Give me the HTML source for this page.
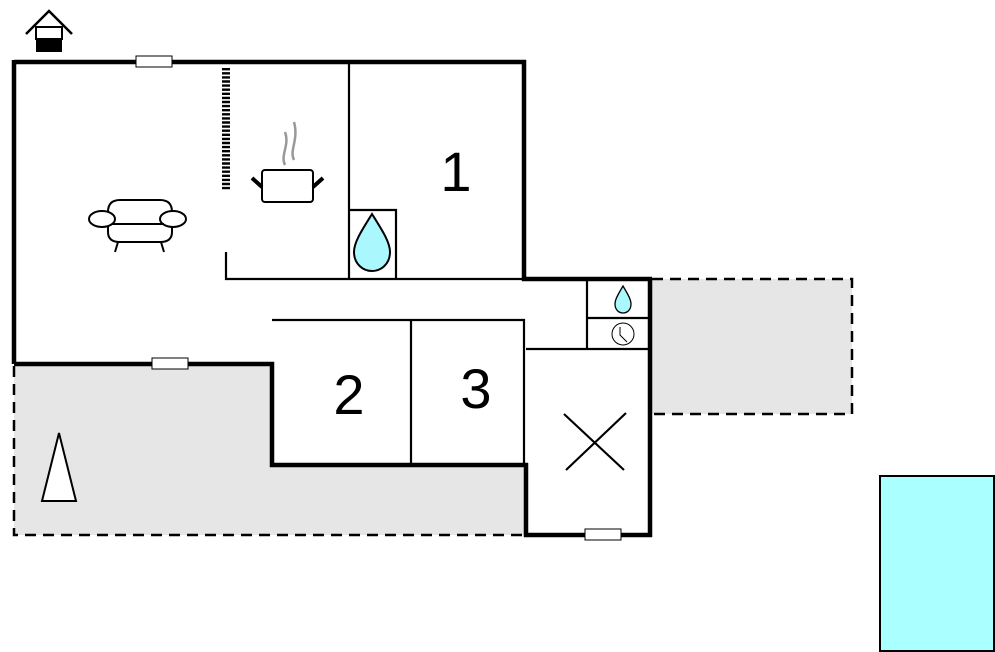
<!DOCTYPE html>
<html><head><meta charset="utf-8"><style>body{margin:0;background:#fff}svg{display:block}</style></head><body>
<svg width="995" height="652" viewBox="0 0 995 652" xmlns="http://www.w3.org/2000/svg" font-family="Liberation Sans, sans-serif">
<rect x="14" y="364" width="512" height="171" fill="#e6e6e6"/>
<rect x="650" y="279" width="202" height="135" fill="#e6e6e6"/>
<rect x="272" y="320" width="254" height="145" fill="#fff"/>
<g stroke="#000" stroke-width="2.5" stroke-dasharray="11,7" fill="none">
<path d="M14 366 V535 H524"/>
<path d="M652 279 H852 V414 H652"/>
</g>
<g stroke="#000" stroke-width="2.2" fill="none">
<path d="M349 62 V279"/>
<path d="M226 252 V279 H524"/>
<path d="M349 210 H396 V279"/>
<path d="M272 320 H524 V465"/>
<path d="M411 320 V465"/>
<path d="M526 349 H650"/>
<path d="M587 279 V349"/>
<path d="M587 318 H650"/>
<path d="M564 414 L624 470 M626 413 L566 470"/>
</g>
<g stroke="#000" stroke-width="4.5" fill="none" stroke-linejoin="miter">
<path d="M14 62 H526 M524 60 V279 H652 M650 279 V537 M652 535 H524 M526 537 V463 M528 465 H272 V364 H14 M14 364 V60"/>
</g>
<g fill="#fff" stroke="#000" stroke-width="1">
<rect x="136" y="56" width="36" height="11"/>
<rect x="152" y="358" width="36" height="11"/>
<rect x="585" y="529" width="36" height="11"/>
</g>
<line x1="226" y1="68" x2="226" y2="191" stroke="#000" stroke-width="8" stroke-dasharray="2.4,1.7"/>
<path d="M26 34 L49 11 L72 34" stroke="#000" stroke-width="2.5" fill="none"/>
<rect x="36" y="27" width="26" height="12" fill="#fff" stroke="#000" stroke-width="2"/>
<rect x="36" y="39" width="26" height="13" fill="#000"/>
<path d="M285 165 C280 155,290 145,285 132 M294 160 C289 150,299 140,294 122" stroke="#999" stroke-width="2.5" fill="none"/>
<rect x="262" y="170" width="51" height="32" rx="3" fill="#fff" stroke="#000" stroke-width="2"/>
<path d="M252 178 L262 187 M323 178 L313 187" stroke="#000" stroke-width="4"/>
<g stroke="#000" stroke-width="2" fill="#fff">
<path d="M108 212 Q108 200 120 200 H160 Q172 200 172 212 V232 Q172 242 160 242 H120 Q108 242 108 232 Z"/>
<ellipse cx="102" cy="219" rx="13" ry="8"/>
<ellipse cx="173" cy="219" rx="13" ry="8"/>
<path d="M112 224 H164 M118 242 L115 252 M161 242 L164 252" fill="none"/>
</g>
<path d="M372 214 C362 230,354 242,354 252 C354 264,363 271,372 271 C381 271,390 264,390 252 C390 242,382 230,372 214Z" fill="#aaf8fd" stroke="#000" stroke-width="2"/>
<path d="M623 286 C619 293,615 299,615 304 C615 310,619 313,623 313 C627 313,631 310,631 304 C631 299,627 293,623 286Z" fill="#aaf8fd" stroke="#000" stroke-width="1.3"/>
<circle cx="623" cy="334" r="11" fill="#fff" stroke="#000" stroke-width="1"/>
<path d="M620 327 V335 L627 342" stroke="#000" stroke-width="1" fill="none"/>
<g font-size="56" text-anchor="middle" fill="#000">
<text x="456" y="191">1</text>
<text x="349" y="414">2</text>
<text x="476" y="408">3</text>
</g>
<path d="M59 433 L42 501 H76 Z" fill="#fff" stroke="#000" stroke-width="2"/>
<rect x="880" y="476" width="114" height="175" fill="#aaffff" stroke="#000" stroke-width="2"/>
</svg>
</body></html>
